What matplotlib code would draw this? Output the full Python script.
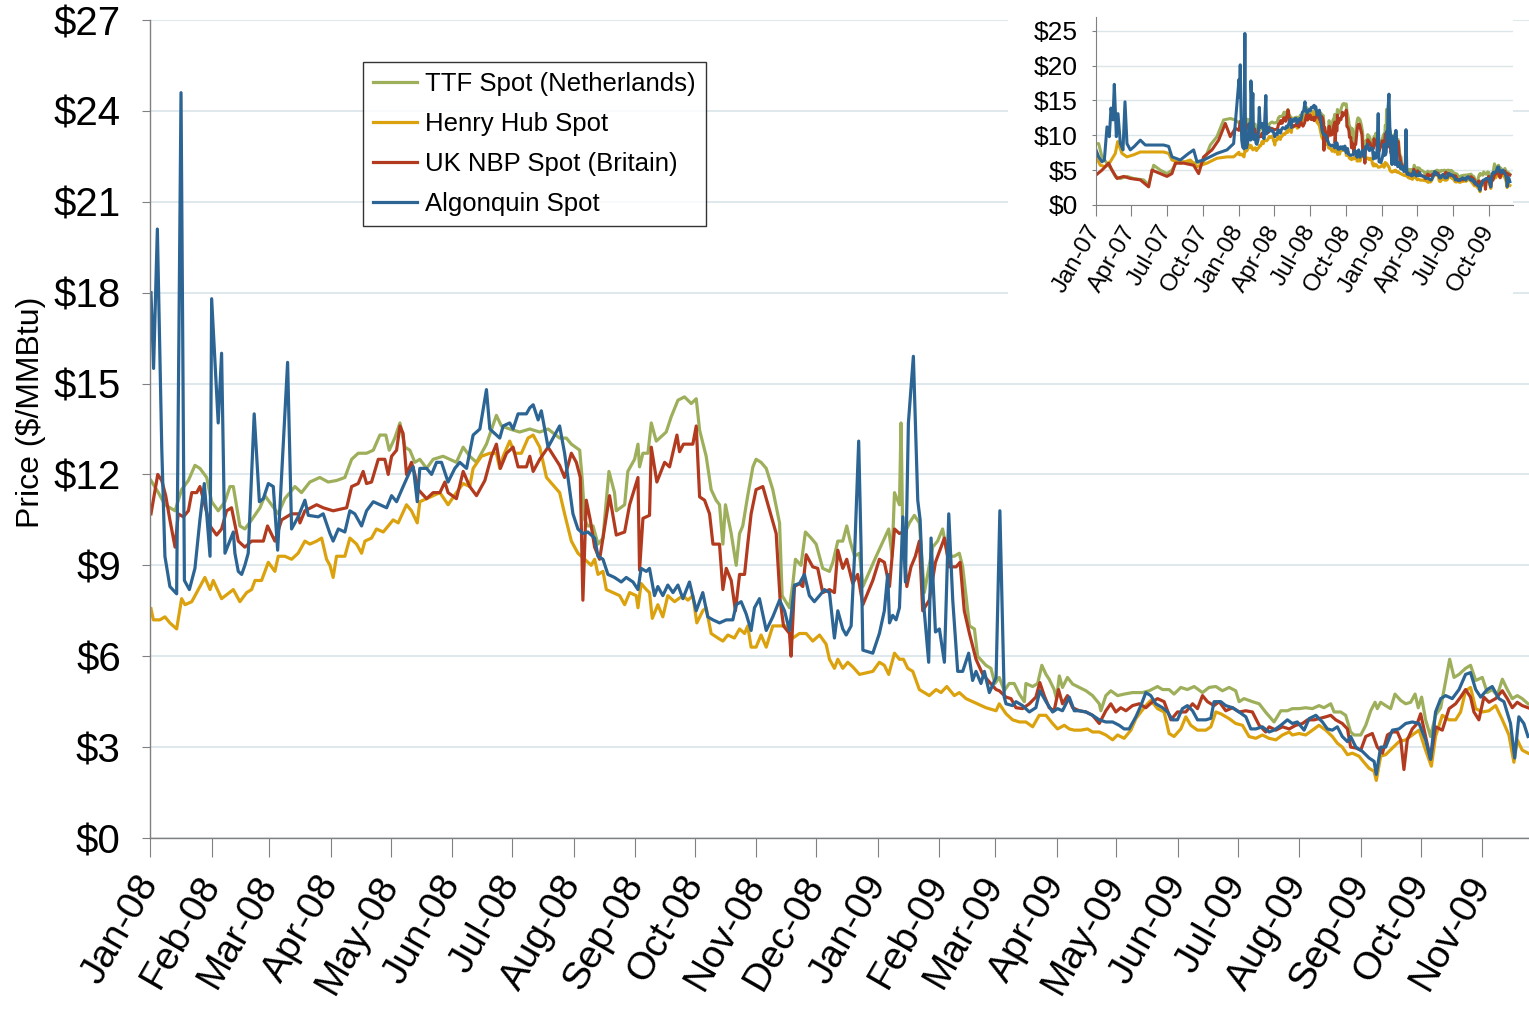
import numpy as np
import pandas as pd
import matplotlib
matplotlib.use('Agg')
import matplotlib.pyplot as plt
from matplotlib.patches import Rectangle
from matplotlib.ticker import FuncFormatter

plt.rcParams['font.family'] = ['Liberation Sans', 'DejaVu Sans']

series_names = ["TTF Spot (Netherlands)", "Henry Hub Spot", "UK NBP Spot (Britain)", "Algonquin Spot"]
series_colors = ['#9DAF5B', '#DBA20E', '#B23B1F', '#2C6594']

# (days since 2008-01-01, $/MMBtu)
ttf_0809 = [(0.5,11.8),(4.2,11.4),(7.5,11.0),(12.6,10.8),(15.9,11.5),(19.3,11.8),(22.6,12.3),(25.1,12.2),(28.5,11.9),(31.0,11.1),(34.3,10.8),(37.7,11.1),(40.2,11.6),(41.9,11.6),(45.2,10.3),(47.7,10.2),(51.1,10.5),(55.3,10.9),(57.8,11.3),(61.1,11.0),(64.5,10.7),(67.8,11.2),(72.9,11.6),(76.2,11.4),(80.4,11.75),(85.4,11.9),(89.6,11.75),(93.8,11.8),(98.0,11.9),(101.4,12.5),(104.7,12.7),(108.9,12.7),(112.3,12.8),(115.6,13.3),(118.6,13.3),(120.3,12.8),(123.1,13.2),(125.7,13.7),(128.2,12.9),(130.7,12.8),(133.2,12.4),(135.7,12.5),(139.1,12.2),(142.4,12.5),(147.4,12.6),(154.1,12.4),(157.5,12.9),(160.8,12.6),(164.2,12.4),(169.2,13.0),(174.2,13.95),(176.7,13.6),(180.9,13.5),(185.9,13.4),(191.0,13.5),(196.0,13.4),(200.2,13.5),(206.0,13.2),(209.4,13.2),(211.9,13.0),(216.1,12.8),(217.4,11.8),(218.6,10.5),(220.2,10.3),(222.8,10.3),(225.3,9.7),(227.8,9.9),(230.8,12.1),(233.6,11.4),(234.5,10.8),(238.7,11.0),(240.3,12.1),(243.7,12.5),(245.4,13.0),(246.2,12.25),(247.9,12.7),(250.4,12.7),(252.1,13.7),(254.6,13.1),(259.6,13.4),(262.1,13.9),(265.5,14.45),(268.8,14.56),(272.2,14.34),(274.7,14.5),(276.4,13.46),(279.7,12.6),(282.2,11.5),(284.7,11.15),(286.4,11.0),(288.1,9.7),(289.4,11.0),(292.3,10.05),(294.8,9.0),(296.5,10.05),(298.1,10.3),(300.6,11.3),(303.2,12.25),(304.8,12.5),(307.3,12.4),(309.9,12.2),(313.2,11.5),(316.6,10.4),(317.9,8.0),(321.6,7.6),(323.3,8.4),(324.6,9.2),(327.4,9.0),(329.6,10.1),(332.5,9.9),(335.0,9.7),(338.3,8.9),(341.7,8.8),(343.4,9.1),(345.9,9.8),(348.4,9.8),(350.4,10.3),(352.1,9.8),(354.3,9.3),(356.8,9.4),(358.5,8.3),(365.2,9.3),(371.5,10.2),(373.2,9.3),(374.4,11.4),(376.9,11.0),(377.7,13.7),(378.6,9.9),(381.9,10.4),(384.4,10.65),(386.9,10.4),(389.4,8.1),(393.6,9.6),(396.1,9.8),(398.6,10.2),(401.2,9.3),(404.5,9.3),(407.0,9.4),(408.7,8.95),(412.1,7.0),(414.6,6.9),(416.2,6.0),(420.4,5.7),(422.9,5.6),(424.9,5.1),(427.1,5.3),(429.6,4.86),(432.1,5.1),(434.6,5.1),(437.2,4.75),(439.7,4.5),(440.5,5.1),(443.9,5.0),(446.4,5.1),(448.5,5.7),(450.6,5.4),(452.2,5.24),(454.7,4.9),(455.9,4.6),(457.3,5.35),(458.9,4.97),(461.4,5.3),(464.0,5.08),(467.3,4.97),(470.7,4.86),(474.0,4.7),(477.4,4.43),(478.2,4.2),(480.7,4.7),(483.2,4.86),(486.6,4.7),(489.9,4.75),(494.1,4.8),(499.1,4.8),(502.5,4.86),(506.7,5.0),(509.2,4.9),(512.5,4.9),(515.0,4.75),(518.4,4.97),(521.7,4.9),(525.1,5.0),(529.3,4.8),(532.6,4.97),(536.0,5.0),(539.3,4.86),(542.7,4.97),(546.0,4.86),(547.7,4.5),(550.2,4.6),(554.4,4.5),(557.8,4.43),(561.1,4.15),(565.3,3.83),(568.7,4.2),(572.0,4.2),(574.5,4.27),(577.9,4.27),(581.2,4.3),(584.6,4.27),(587.9,4.37),(590.4,4.3),(593.8,4.43),(595.5,4.16),(598.8,4.16),(601.3,4.05),(603.8,3.5),(605.5,3.4),(608.9,3.4),(611.4,3.72),(613.9,4.2),(616.1,4.48),(617.2,4.27),(618.9,4.48),(621.4,4.37),(623.9,4.27),(626.1,4.75),(629.0,4.54),(631.5,4.43),(634.0,4.48),(636.2,4.75),(637.8,4.3),(639.5,4.65),(641.5,3.9),(644.0,3.35),(646.5,4.05),(649.1,4.3),(651.6,5.19),(653.6,5.9),(655.8,5.3),(658.3,5.4),(661.6,5.6),(664.1,5.7),(666.7,5.2),(670.0,5.3),(672.5,4.8),(675.0,4.9),(677.5,4.7),(680.1,5.24),(682.6,4.9),(685.1,4.6),(687.6,4.7),(690.1,4.6),(693.0,4.43)]

hh_0809 = [(0.5,7.57),(1.7,7.2),(5.0,7.2),(7.5,7.3),(10.0,7.1),(13.4,6.9),(15.9,7.9),(17.6,7.7),(21.0,7.8),(24.3,8.2),(27.6,8.6),(30.2,8.2),(31.8,8.5),(36.0,7.9),(41.9,8.2),(45.2,7.8),(48.6,8.1),(51.1,8.2),(52.8,8.5),(56.1,8.5),(59.5,9.1),(62.8,8.8),(64.5,9.3),(67.8,9.3),(71.2,9.2),(74.5,9.4),(77.9,9.8),(80.4,9.7),(83.8,9.8),(86.3,9.9),(88.8,9.2),(90.5,9.0),(92.1,8.6),(93.8,9.3),(98.0,9.3),(100.5,9.9),(103.9,9.7),(106.4,9.4),(108.1,9.8),(111.4,9.9),(113.9,10.2),(117.3,10.1),(119.8,10.3),(122.3,10.5),(124.8,10.4),(129.0,11.0),(131.5,10.8),(134.4,10.4),(135.7,11.1),(139.1,11.2),(142.4,11.3),(145.8,11.4),(149.9,11.0),(154.1,11.4),(157.5,11.7),(160.8,11.6),(162.5,12.2),(166.7,12.6),(170.9,12.7),(174.2,12.7),(175.9,12.2),(177.6,12.6),(180.9,13.1),(183.4,12.7),(186.8,12.7),(190.1,13.2),(192.7,13.3),(196.0,12.9),(199.4,11.9),(206.0,11.4),(208.5,10.7),(211.9,9.8),(215.2,9.4),(218.6,9.2),(221.9,9.0),(223.6,9.2),(225.3,8.7),(227.8,8.8),(229.5,8.2),(232.8,8.1),(236.2,8.0),(238.7,7.7),(241.2,8.1),(244.5,8.0),(245.4,7.6),(247.0,8.4),(249.6,8.2),(251.2,8.1),(252.6,7.25),(255.4,7.7),(257.9,7.3),(260.4,8.0),(263.8,7.8),(268.0,8.0),(270.5,7.85),(273.0,8.0),(275.0,7.1),(278.0,7.5),(279.7,7.6),(282.2,6.75),(285.6,6.6),(288.1,6.5),(290.6,6.7),(293.9,6.6),(296.5,6.9),(299.0,6.75),(300.6,7.0),(302.3,6.3),(304.8,6.3),(307.3,6.7),(309.9,6.3),(313.2,7.0),(316.6,7.0),(319.9,7.0),(323.3,6.6),(326.6,6.75),(330.0,6.75),(333.3,6.5),(336.7,6.7),(340.0,6.4),(341.7,5.9),(344.2,5.6),(345.9,5.9),(348.4,5.6),(350.9,5.8),(353.4,5.65),(356.8,5.4),(363.5,5.5),(366.8,5.8),(369.3,5.7),(371.5,5.4),(374.4,6.1),(376.9,5.9),(378.9,5.9),(381.1,5.6),(383.6,5.5),(386.9,4.9),(391.9,4.7),(395.3,4.9),(397.8,4.8),(400.7,5.0),(404.5,4.7),(407.0,4.8),(410.4,4.6),(415.4,4.45),(420.4,4.3),(425.5,4.2),(427.1,4.43),(430.5,4.1),(433.8,3.9),(437.2,3.83),(440.5,3.83),(443.9,3.67),(447.2,4.05),(450.6,4.05),(453.9,3.78),(456.4,3.6),(459.8,3.72),(462.3,3.6),(464.8,3.56),(468.1,3.56),(471.5,3.6),(474.0,3.5),(477.4,3.5),(480.7,3.4),(484.1,3.24),(486.6,3.4),(489.9,3.29),(493.3,3.56),(495.8,3.94),(498.3,4.16),(500.8,4.37),(503.3,4.54),(506.7,4.27),(510.0,4.16),(512.5,3.45),(515.0,3.35),(518.4,3.6),(520.9,4.0),(523.4,3.72),(526.8,3.56),(531.0,3.56),(533.5,3.67),(536.0,4.16),(538.5,4.1),(542.7,3.94),(546.0,3.78),(549.4,3.72),(552.7,3.35),(556.1,3.29),(559.4,3.4),(562.8,3.29),(566.2,3.24),(569.5,3.4),(572.9,3.5),(574.5,3.4),(577.9,3.45),(581.2,3.4),(584.6,3.56),(587.9,3.72),(591.3,3.56),(594.6,3.35),(597.1,3.13),(599.6,3.0),(602.2,2.75),(604.7,2.8),(608.0,2.7),(610.5,2.5),(613.1,2.3),(615.6,2.2),(616.7,1.9),(618.9,2.7),(621.4,2.75),(624.8,2.97),(628.1,3.18),(631.5,3.24),(634.8,3.4),(638.2,3.56),(641.5,2.9),(644.4,2.37),(646.5,3.35),(649.9,4.05),(653.3,3.9),(656.6,3.9),(659.1,4.16),(661.6,4.86),(664.1,4.97),(666.7,4.27),(670.0,4.16),(673.4,4.2),(676.7,4.37),(680.1,3.9),(683.4,3.4),(685.9,2.5),(687.6,3.24),(690.1,2.9),(693.0,2.8)]

nbp_0809 = [(0.5,10.7),(3.9,12.0),(5.9,11.8),(7.9,11.3),(10.0,10.5),(12.6,9.6),(14.2,10.7),(16.8,10.6),(19.3,10.8),(21.0,11.4),(23.5,11.4),(25.1,11.6),(26.8,11.2),(30.2,10.3),(33.5,10.0),(36.0,10.2),(38.5,10.8),(41.0,10.9),(44.4,9.8),(47.7,9.6),(51.1,9.8),(54.4,9.8),(57.0,9.8),(59.1,10.3),(62.8,9.8),(66.2,10.5),(71.2,10.7),(74.5,10.7),(75.4,10.4),(77.9,10.8),(83.8,11.0),(87.1,10.9),(92.1,10.8),(98.9,10.9),(101.4,11.6),(104.7,11.7),(107.2,12.1),(108.9,11.7),(111.4,11.75),(114.8,12.5),(118.1,12.5),(119.8,12.0),(121.5,12.6),(124.0,12.8),(125.7,13.6),(127.3,13.35),(129.0,12.0),(131.5,12.4),(133.2,12.0),(134.9,11.5),(139.1,11.2),(142.4,11.4),(145.8,11.4),(148.3,11.75),(149.9,11.4),(154.1,11.2),(157.5,12.1),(160.8,11.6),(164.2,11.3),(168.4,11.8),(171.7,12.6),(174.2,13.0),(176.2,12.2),(179.3,12.7),(182.6,12.9),(185.1,12.25),(189.3,12.25),(191.0,12.6),(192.7,12.1),(196.0,12.5),(200.2,12.9),(206.0,12.3),(208.5,11.9),(211.9,12.7),(214.4,12.4),(216.4,11.9),(217.7,7.85),(219.4,11.15),(221.4,10.5),(223.6,9.6),(226.1,9.2),(227.8,9.9),(231.1,11.3),(234.5,10.0),(238.7,10.1),(241.2,11.0),(245.4,11.9),(246.2,8.84),(247.9,10.55),(251.2,10.65),(252.1,12.9),(254.9,11.75),(258.8,12.4),(261.3,12.25),(265.0,13.3),(266.3,12.75),(268.3,13.0),(270.5,13.0),(273.0,13.0),(274.7,13.6),(276.4,11.26),(278.9,11.15),(281.4,10.7),(283.1,9.7),(286.4,9.7),(288.1,8.2),(289.8,8.9),(292.3,8.5),(294.4,7.5),(296.5,8.7),(299.0,8.7),(300.6,9.7),(302.3,10.7),(304.8,11.5),(308.2,11.6),(311.2,10.9),(314.9,10.05),(316.9,7.85),(318.6,7.0),(321.6,6.75),(322.4,6.0),(324.1,8.3),(326.6,8.4),(328.3,8.3),(330.0,9.35),(333.3,8.95),(335.8,8.9),(338.3,8.1),(341.7,8.2),(344.2,8.1),(345.9,9.5),(348.4,8.9),(350.4,9.2),(353.4,8.4),(355.9,8.7),(358.5,7.7),(363.5,8.5),(366.8,9.2),(369.3,9.1),(371.9,8.3),(374.4,10.2),(376.9,10.05),(378.6,10.1),(380.6,8.3),(382.7,8.95),(384.9,9.3),(386.9,9.8),(388.6,7.5),(391.9,7.85),(395.0,9.1),(397.8,9.6),(399.5,9.9),(402.0,8.95),(405.4,8.95),(407.4,9.1),(409.5,7.5),(412.1,6.75),(415.4,5.9),(418.8,5.4),(422.1,5.15),(425.5,4.9),(427.1,4.86),(430.5,4.65),(433.0,4.6),(435.5,4.3),(438.8,4.27),(442.2,4.43),(445.5,4.65),(447.5,5.13),(449.7,4.7),(452.2,4.3),(454.7,4.2),(456.9,4.9),(458.9,4.43),(461.4,4.7),(464.0,4.3),(467.3,4.2),(470.7,4.16),(474.0,4.05),(477.4,3.78),(480.7,4.2),(483.2,4.43),(485.7,4.16),(488.2,4.3),(490.8,4.2),(494.1,4.37),(497.5,4.43),(500.8,4.3),(504.2,4.5),(506.7,4.6),(510.0,4.5),(513.4,3.9),(516.7,4.16),(520.9,4.16),(524.3,4.43),(526.8,4.27),(529.3,4.7),(531.8,4.5),(535.1,4.37),(537.7,4.5),(541.0,4.2),(544.4,4.3),(547.7,4.16),(551.1,4.2),(554.4,4.16),(557.8,3.72),(561.1,3.5),(562.8,3.67),(566.2,3.56),(569.5,3.67),(572.9,3.6),(576.2,3.72),(579.6,3.78),(582.1,3.9),(585.4,3.9),(587.9,3.94),(591.3,4.0),(593.8,4.05),(596.3,3.9),(599.6,3.78),(602.2,3.6),(603.8,3.0),(606.4,2.97),(608.9,2.9),(611.4,3.35),(614.7,3.45),(617.2,3.0),(619.8,2.8),(622.3,3.4),(624.8,3.5),(627.3,3.5),(629.0,3.24),(630.6,2.26),(632.3,3.24),(634.8,3.6),(637.3,3.78),(639.0,4.1),(641.5,3.35),(644.0,2.6),(646.5,3.67),(649.9,3.56),(653.3,4.27),(656.6,4.43),(659.1,4.65),(661.6,4.9),(664.1,4.65),(665.8,4.16),(668.3,3.9),(670.8,4.65),(673.4,4.48),(676.7,4.6),(680.1,4.86),(682.6,4.6),(685.1,4.3),(687.6,4.48),(690.1,4.37),(693.0,4.3)]

alg_0809 = [(0.5,18.0),(1.8,15.5),(3.7,20.1),(5.9,12.9),(7.5,9.3),(10.0,8.3),(13.4,8.06),(15.6,24.6),(17.3,8.5),(19.8,8.2),(22.6,8.9),(25.1,10.5),(27.3,11.7),(30.2,9.3),(31.0,17.8),(34.3,13.7),(36.0,16.0),(37.7,9.4),(41.9,10.1),(42.7,9.4),(44.4,8.8),(46.1,8.7),(47.7,9.0),(49.4,9.4),(52.4,14.0),(55.0,11.1),(57.0,11.2),(59.5,11.7),(62.0,11.6),(64.2,9.5),(69.2,15.7),(71.2,10.2),(74.5,10.6),(77.9,11.15),(79.6,10.65),(84.6,10.6),(87.1,10.7),(90.5,10.05),(92.1,9.8),(94.7,10.2),(98.0,10.1),(100.5,10.8),(103.0,10.7),(106.4,10.3),(108.9,10.8),(112.3,11.1),(115.6,11.0),(119.0,10.9),(121.5,11.3),(124.0,11.1),(127.3,11.6),(130.7,12.1),(132.4,12.25),(134.4,11.1),(135.7,12.2),(139.1,12.2),(141.6,12.0),(144.1,12.4),(146.6,12.4),(149.9,11.75),(153.3,12.2),(155.8,12.4),(159.2,12.2),(162.5,13.3),(165.9,13.5),(169.2,14.8),(170.9,13.5),(175.9,13.2),(177.6,13.6),(180.9,13.7),(182.6,13.5),(185.1,14.0),(189.3,14.0),(191.0,14.2),(192.7,14.3),(195.2,13.8),(196.8,14.1),(200.2,12.9),(206.0,13.6),(208.5,12.7),(210.2,11.9),(212.7,10.7),(215.2,10.2),(217.7,10.05),(220.2,10.1),(223.6,9.9),(225.3,9.3),(227.8,9.2),(230.3,8.7),(233.6,8.6),(237.0,8.45),(239.5,8.6),(242.9,8.45),(245.4,8.2),(247.0,8.9),(249.6,8.8),(251.2,8.9),(253.7,8.0),(255.4,8.3),(257.9,8.0),(260.4,8.35),(263.0,8.1),(265.5,8.35),(268.0,7.9),(271.3,8.45),(274.7,7.5),(278.0,8.1),(280.5,7.3),(283.1,7.2),(286.4,7.1),(289.8,7.2),(293.1,7.2),(294.8,7.7),(297.3,7.8),(299.8,7.4),(302.3,6.85),(304.0,7.6),(306.5,7.9),(309.9,6.85),(313.2,7.3),(316.6,7.85),(319.1,7.5),(321.6,6.85),(324.1,8.35),(326.6,8.4),(329.1,8.7),(331.6,8.0),(334.1,7.8),(336.7,8.0),(339.2,8.2),(341.7,8.1),(344.2,6.6),(345.9,7.5),(348.4,6.9),(350.1,6.7),(352.6,7.0),(354.3,9.3),(356.4,13.1),(357.6,9.6),(358.5,6.2),(363.5,6.1),(366.8,6.75),(369.3,7.5),(371.0,8.7),(371.9,7.1),(373.5,7.35),(375.2,7.2),(376.9,7.6),(378.6,10.6),(379.9,8.45),(381.4,13.7),(383.9,15.9),(386.1,11.15),(387.3,10.5),(388.9,7.85),(391.6,5.8),(392.8,9.9),(395.0,6.8),(397.0,6.9),(399.5,5.8),(401.7,10.7),(403.7,7.85),(406.2,5.5),(408.7,5.5),(411.7,6.1),(413.7,5.2),(415.4,5.5),(417.9,5.1),(419.6,5.5),(422.1,4.8),(425.5,5.3),(427.4,10.8),(429.6,4.65),(430.5,4.43),(433.8,4.37),(435.5,4.5),(438.8,4.37),(442.2,4.16),(445.5,4.3),(447.5,4.86),(450.6,4.5),(453.9,4.16),(456.4,4.27),(458.9,4.2),(462.3,4.65),(464.8,4.2),(467.3,4.2),(470.7,4.16),(474.0,4.05),(477.4,3.9),(480.7,3.83),(484.1,3.83),(487.4,3.72),(489.9,3.6),(492.4,3.6),(495.8,4.0),(498.3,4.37),(500.8,4.8),(503.3,4.7),(505.8,4.43),(509.2,4.3),(511.7,4.16),(514.2,3.9),(516.7,3.9),(519.2,4.27),(521.7,4.37),(524.3,4.2),(526.8,3.9),(531.0,3.9),(533.5,3.95),(535.1,4.5),(538.5,4.5),(541.0,4.37),(544.4,4.3),(547.7,4.16),(551.1,4.0),(553.6,3.6),(556.1,3.6),(559.4,3.67),(562.8,3.5),(565.3,3.56),(568.7,3.72),(572.0,3.9),(574.5,3.78),(577.0,3.83),(580.4,3.56),(582.9,3.94),(586.3,4.05),(589.6,3.83),(592.1,3.6),(594.6,3.56),(597.1,3.67),(599.6,3.35),(602.2,3.18),(603.8,3.35),(606.4,3.0),(609.7,2.86),(613.1,2.64),(615.6,2.53),(616.7,2.1),(618.9,3.0),(621.4,3.0),(624.8,3.56),(628.1,3.6),(631.5,3.78),(634.8,3.83),(638.2,3.78),(641.5,3.24),(644.0,2.6),(646.5,4.16),(649.1,4.6),(651.6,4.7),(654.9,4.6),(658.3,4.9),(661.6,5.4),(664.1,5.46),(666.7,4.9),(669.2,4.65),(672.5,4.9),(675.0,5.0),(678.4,4.6),(680.9,4.5),(684.2,3.78),(686.3,2.64),(688.4,4.0),(690.9,3.78),(693.0,3.35)]

# 2007 history for the inset (days since 2007-01-01)
ttf_2007 = [(0,8.8),(6.8,8.8),(15.3,6.9),(28.1,6.0),(40.9,5.0),(49.4,4.1),(62.2,3.8),(79.2,4.1),(96.3,3.8),(121.8,3.6),(134.6,2.9),(147.4,5.7),(164.4,5.0),(181.4,4.5),(194.2,5.0),(207,6.2),(224,6.2),(249.6,6.0),(275.1,6.2),(292.2,8.6),(309.2,9.8),(326.2,12.2),(343.3,12.4),(356,12.2)]
hh_2007 = [(0,6.9),(11,5.7),(23.9,5.5),(36.6,6.2),(49.4,7.4),(55.4,9.1),(66.4,7.4),(79.2,6.9),(96.3,7.2),(113.3,7.6),(138.8,7.6),(172.9,7.6),(185.7,7.4),(194.2,6.45),(215.5,6.0),(241.1,6.45),(258.1,5.5),(283.6,6.0),(309.2,6.7),(334.8,6.9),(351.8,6.9)]
nbp_2007 = [(0,4.3),(15.3,5.0),(32.4,6.0),(40.9,5.0),(53.7,3.8),(70.7,4.1),(87.7,3.8),(113.3,3.6),(134.6,2.6),(143.1,5.0),(164.4,4.5),(181.4,4.1),(194.2,4.5),(202.7,6.0),(224,6.0),(249.6,5.7),(262.4,4.5),(275.1,6.9),(296.4,7.9),(313.5,9.3),(330.5,11.7),(343.3,9.8),(356,11.0)]
alg_2007 = [(0,7.9),(6.8,6.9),(15.3,6.2),(21.3,6.45),(28.1,11.2),(34.1,9.8),(38.3,13.9),(43.4,12.2),(46.8,17.3),(52,9.8),(56.2,13.1),(62.2,8.8),(69,7.9),(74.1,14.8),(79.2,8.8),(87.7,7.9),(98,8.4),(113.3,9.3),(126.1,8.6),(147.4,8.6),(172.9,8.6),(185.7,8.4),(194.2,6.9),(215.5,6.45),(236.8,7.4),(249.6,7.9),(258.1,6.2),(275.1,6.45),(309.2,7.4),(334.8,7.9),(351.8,8.8)]

main_series = [ttf_0809, hh_0809, nbp_0809, alg_0809]
hist_series = [ttf_2007, hh_2007, nbp_2007, alg_2007]

main_yticks = [0, 3, 6, 9, 12, 15, 18, 21, 24, 27]
inset_yticks = [0, 5, 10, 15, 20, 25]

base08 = pd.Timestamp('2008-01-01')
base07 = pd.Timestamp('2007-01-01')


def to_xy(pairs, base):
    arr = np.array(pairs, dtype=float)
    return base + pd.to_timedelta(arr[:, 0], unit='D'), arr[:, 1]


W, H = 1529, 1011
fig = plt.figure(figsize=(W / 100, H / 100), dpi=100)
fig.patch.set_facecolor('white')

ax = fig.add_axes([150 / W, 1 - 838 / H, (W - 150) / W, (838 - 20) / H])
grid_color = '#DCE6EA'
for pairs, name, col in zip(main_series, series_names, series_colors):
    x, y = to_xy(pairs, base08)
    ax.plot(x, y, color=col, lw=2.3, label=name, solid_joinstyle='round')

ax.set_ylim(0, 27)
ax.set_yticks(main_yticks)
ax.yaxis.set_major_formatter(FuncFormatter(lambda v, p: f'${v:.0f}'))
ax.set_xlim(base08, base08 + pd.Timedelta(days=693.5))
months = pd.date_range('2008-01-01', '2009-11-01', freq='MS')
ax.set_xticks(months)
ax.set_xticklabels([m.strftime('%b-%y') for m in months], rotation=60,
                   ha='right', va='center', rotation_mode='anchor')
ax.grid(axis='y', color=grid_color, lw=1.3)
ax.set_axisbelow(True)
for s in ['top', 'right']:
    ax.spines[s].set_visible(False)
for s in ['left', 'bottom']:
    ax.spines[s].set_color('#808080')
    ax.spines[s].set_linewidth(1.0)
ax.tick_params(axis='y', direction='out', length=6, color='#808080', labelsize=29, pad=15)
ax.tick_params(axis='x', direction='out', length=14, color='#808080', labelsize=28, pad=15)

fig.text(31 / W, 1 - 412 / H, 'Price ($/MMBtu)', rotation=90, ha='center', va='center', fontsize=23)

leg = ax.legend(loc='upper left', bbox_to_anchor=((363 - 150) / (W - 150), (838 - 62) / (838 - 20)),
                borderaxespad=0, fontsize=18.5, frameon=True, fancybox=False,
                edgecolor='black', handlelength=1.7, handletextpad=0.3,
                labelspacing=0.62, borderpad=0.4)
leg.get_frame().set_linewidth(1.0)

# white panel behind the inset
fig.add_artist(Rectangle((1008 / W, 1 - 312 / H), (1513 - 1008) / W, (312 - 4) / H,
                         transform=fig.transFigure, facecolor='white', edgecolor='none', zorder=1))

axi = fig.add_axes([1096 / W, 1 - 205 / H, (1513 - 1096) / W, (205 - 16.7) / H], zorder=2)
for hist, pairs, col in zip(hist_series, main_series, series_colors):
    x1, y1 = to_xy(hist, base07)
    x2, y2 = to_xy(pairs, base08)
    axi.plot(x1.append(x2), np.concatenate([y1, y2]), color=col, lw=2.2)
axi.set_ylim(0, 27)
axi.set_yticks(inset_yticks)
axi.yaxis.set_major_formatter(FuncFormatter(lambda v, p: f'${v:.0f}'))
axi.set_xlim(base07, base07 + pd.Timedelta(days=1066))
quarters = pd.date_range('2007-01-01', '2009-10-01', freq='QS')
axi.set_xticks(quarters)
axi.set_xticklabels([q.strftime('%b-%y') for q in quarters], rotation=60,
                    ha='right', va='center', rotation_mode='anchor')
axi.grid(axis='y', color=grid_color, lw=1.0)
axi.set_axisbelow(True)
for s in ['top', 'right']:
    axi.spines[s].set_visible(False)
for s in ['left', 'bottom']:
    axi.spines[s].set_color('#808080')
axi.tick_params(axis='y', direction='out', length=3, color='#808080', labelsize=19, pad=10)
axi.tick_params(axis='x', direction='out', length=8, color='#808080', labelsize=17.5, pad=8)

fig.savefig('out.png', dpi=100, facecolor='white')
